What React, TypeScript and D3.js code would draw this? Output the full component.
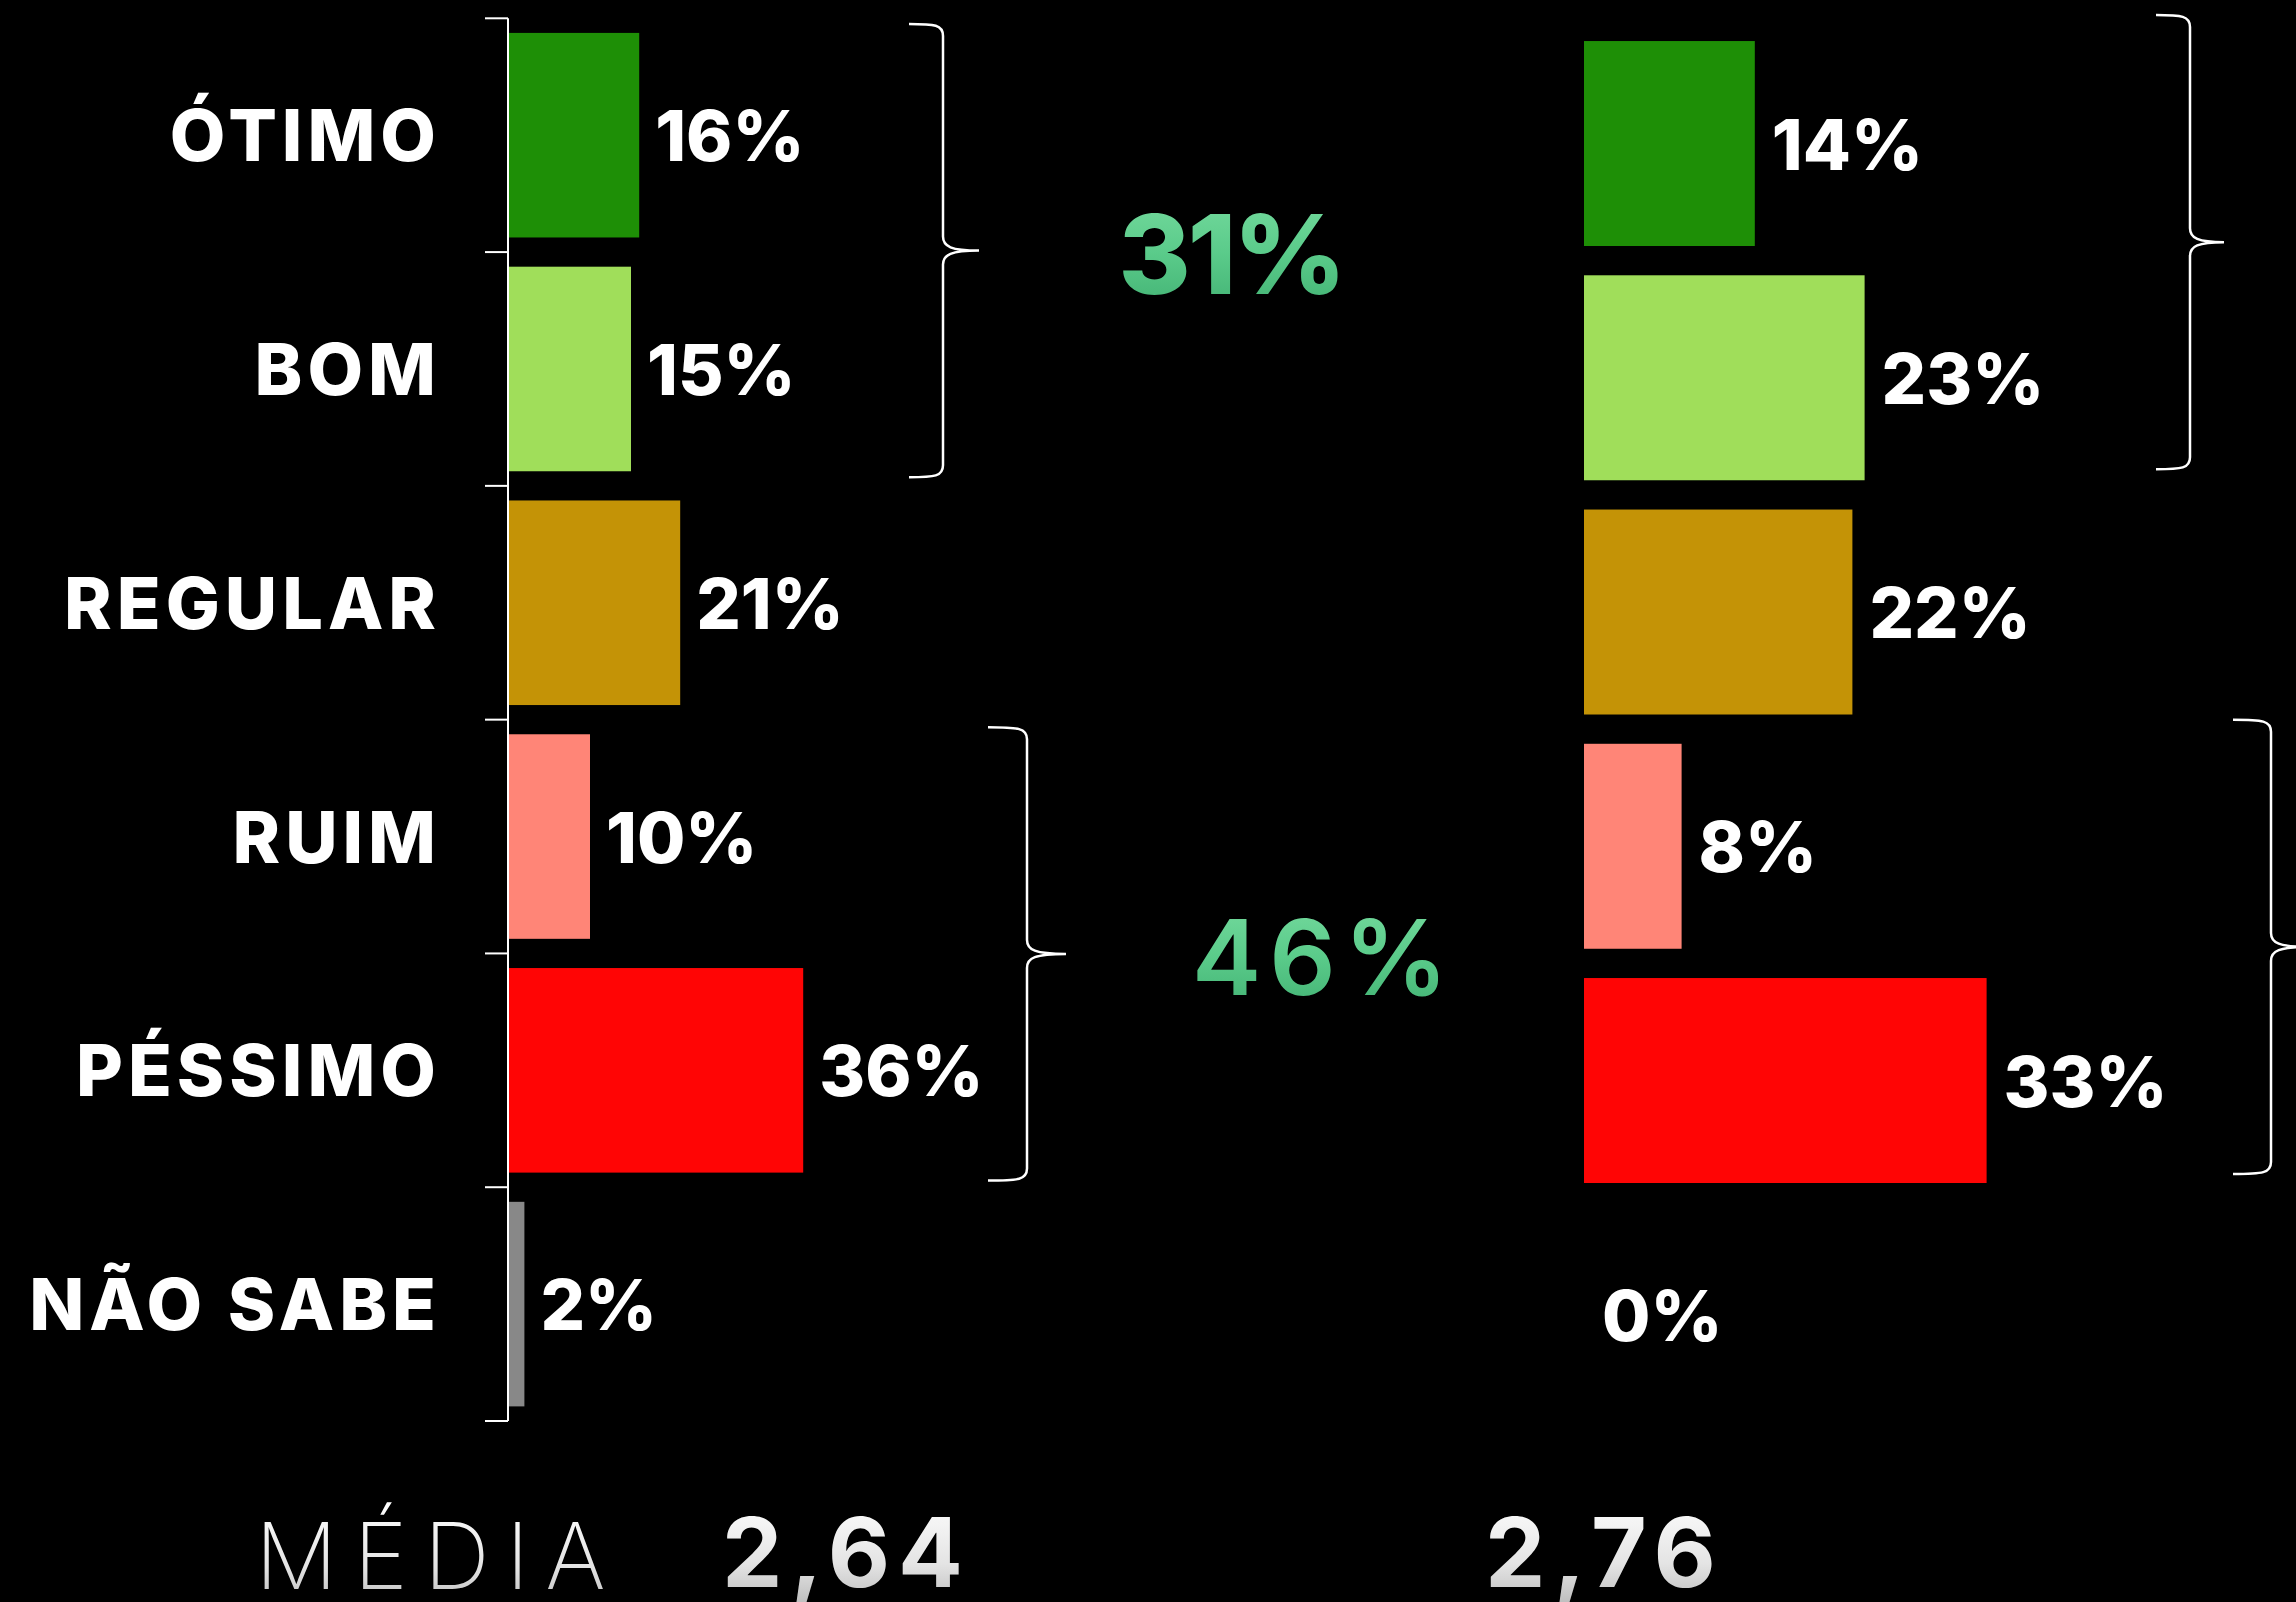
import React from "react";
import * as d3 from "d3";

const categories = ["ÓTIMO", "BOM", "REGULAR", "RUIM", "PÉSSIMO", "NÃO SABE"];
const leftValues = [16, 15, 21, 10, 36, 2];
const rightValues = [14, 23, 22, 8, 33, 0];
const barColors = ["#1e8f06", "#a0de5a", "#c49306", "#ff8577", "#ff0505", "#888888"];
const positiveGroup = ["ÓTIMO", "BOM"];
const negativeGroup = ["RUIM", "PÉSSIMO"];
const groupTotals = ["31%", "46%"];
const averageLabel = "MÉDIA";
const averages = ["2,64", "2,76"];

const W = 2296;
const H = 1602;
const FONT = "Inter, 'DejaVu Sans', sans-serif";

function bracePath(tipX: number, vx: number, cuspX: number, top: number, bottom: number) {
  const mid = (top + bottom) / 2;
  return [
    `M${tipX},${top}`,
    `C${vx - 8},${top} ${vx},${top + 1} ${vx},${top + 12}`,
    `L${vx},${mid - 14}`,
    `C${vx},${mid - 4} ${vx + 8},${mid} ${cuspX},${mid}`,
    `C${vx + 8},${mid} ${vx},${mid + 4} ${vx},${mid + 14}`,
    `L${vx},${bottom - 12}`,
    `C${vx},${bottom - 1} ${vx - 8},${bottom} ${tipX},${bottom}`,
  ].join(" ");
}

export default function App() {
  const xLeft = d3.scaleLinear().domain([0, 36]).range([508, 508 + 36 * 8.2]);
  const xRight = d3.scaleLinear().domain([0, 33]).range([1584, 1584 + 33 * 12.2]);
  const yLeft = d3
    .scaleBand<string>()
    .domain(categories)
    .range([18.3, 1421])
    .paddingInner(0.125)
    .paddingOuter(0.0625);
  const yRight = d3
    .scaleBand<string>()
    .domain(categories)
    .range([26.4, 1431.9])
    .paddingInner(0.125)
    .paddingOuter(0.0625);

  const stepL = yLeft.step();
  const tickYs = d3.range(categories.length + 1).map((i) => 18.3 + i * stepL);
  const bwL = yLeft.bandwidth();
  const bwR = yRight.bandwidth();

  const lTopTop = (yLeft(positiveGroup[0]) as number) - 9;
  const lTopBot = (yLeft(positiveGroup[1]) as number) + bwL + 6;
  const lBotTop = (yLeft(negativeGroup[0]) as number) - 7;
  const lBotBot = (yLeft(negativeGroup[1]) as number) + bwL + 8;
  const rTopTop = (yRight(positiveGroup[0]) as number) - 26;
  const rTopBot = (yRight(positiveGroup[1]) as number) + bwR - 11;
  const rBotTop = (yRight(negativeGroup[0]) as number) - 24;
  const rBotBot = (yRight(negativeGroup[1]) as number) + bwR - 9;

  const capL = 52;

  return (
    <svg
      width={W}
      height={H}
      style={{ position: "absolute", left: 0, top: 0, background: "#000" }}
      fontFamily={FONT}
    >
      <defs>
        <linearGradient id="greenGrad" x1="0" y1="0" x2="0" y2="1">
          <stop offset="0" stopColor="#78dca0" />
          <stop offset="0.5" stopColor="#5acb8a" />
          <stop offset="1" stopColor="#3fae70" />
        </linearGradient>
        <linearGradient id="grayGrad" x1="0" y1="0" x2="0" y2="1">
          <stop offset="0" stopColor="#ffffff" />
          <stop offset="0.6" stopColor="#e4e4e4" />
          <stop offset="1" stopColor="#b8b8b8" />
        </linearGradient>
      </defs>
      <rect x={0} y={0} width={W} height={H} fill="#000" />

      {/* Left axis */}
      <line x1={508} x2={508} y1={tickYs[0]} y2={tickYs[tickYs.length - 1]} stroke="#fff" strokeWidth={2} />
      {tickYs.map((t, i) => (
        <line key={"t" + i} x1={485} x2={508} y1={t} y2={t} stroke="#fff" strokeWidth={2} />
      ))}

      {/* Category labels */}
      {categories.map((c) => (
        <text
          key={"c" + c}
          x={441}
          y={(yLeft(c) as number) + bwL / 2 + capL / 2}
          textAnchor="end"
          fill="#fff"
          fontSize={72}
          fontWeight={800}
          letterSpacing={5}
        >
          {c}
        </text>
      ))}

      {/* Left bars */}
      {categories.map((c, i) => (
        <rect
          key={"lb" + c}
          x={xLeft(0) + 1}
          y={yLeft(c) as number}
          width={Math.max(0, xLeft(leftValues[i]) - xLeft(0) - 1)}
          height={bwL}
          fill={barColors[i]}
        />
      ))}
      {categories.map((c, i) => (
        <text
          key={"lv" + c}
          x={xLeft(leftValues[i]) + 16}
          y={(yLeft(c) as number) + bwL / 2 + capL / 2}
          fill="#fff"
          fontSize={70}
          fontWeight={800}
        >
          {leftValues[i]}%
        </text>
      ))}

      {/* Right bars */}
      {categories.map((c, i) => (
        <rect
          key={"rb" + c}
          x={xRight(0)}
          y={yRight(c) as number}
          width={Math.max(0, xRight(rightValues[i]) - xRight(0))}
          height={bwR}
          fill={barColors[i]}
        />
      ))}
      {categories.map((c, i) => (
        <text
          key={"rv" + c}
          x={rightValues[i] === 0 ? xRight(0) + 18 : xRight(rightValues[i]) + 17}
          y={(yRight(c) as number) + bwR / 2 + capL / 2}
          fill="#fff"
          fontSize={70}
          fontWeight={800}
        >
          {rightValues[i]}%
        </text>
      ))}

      {/* Braces */}
      <g fill="none" stroke="#fff" strokeWidth={2.5}>
        <path d={bracePath(909, 943, 979, lTopTop, lTopBot)} />
        <path d={bracePath(988, 1027, 1066, lBotTop, lBotBot)} />
        <path d={bracePath(2156, 2190, 2224, rTopTop, rTopBot)} />
        <path d={bracePath(2233, 2271, 2309, rBotTop, rBotBot)} />
      </g>

      {/* Group totals */}
      <text
        x={1231}
        y={(lTopTop + lTopBot) / 2 + 43}
        textAnchor="middle"
        fill="url(#greenGrad)"
        fontSize={110}
        fontWeight={800}
        letterSpacing={-3}
      >
        {groupTotals[0]}
      </text>
      <text
        x={1324}
        y={(lBotTop + lBotBot) / 2 + 41}
        textAnchor="middle"
        fill="url(#greenGrad)"
        fontSize={104}
        fontWeight={600}
        letterSpacing={8}
      >
        {groupTotals[1]}
      </text>

      {/* Averages */}
      <text x={255} y={1589} fill="url(#grayGrad)" fontSize={92} fontWeight={200} letterSpacing={16}>
        {averageLabel}
      </text>
      <text x={722} y={1587} fill="url(#grayGrad)" fontSize={96} fontWeight={700} letterSpacing={8}>
        {averages[0]}
      </text>
      <text x={1485} y={1587} fill="url(#grayGrad)" fontSize={96} fontWeight={700} letterSpacing={8}>
        {averages[1]}
      </text>
    </svg>
  );
}
